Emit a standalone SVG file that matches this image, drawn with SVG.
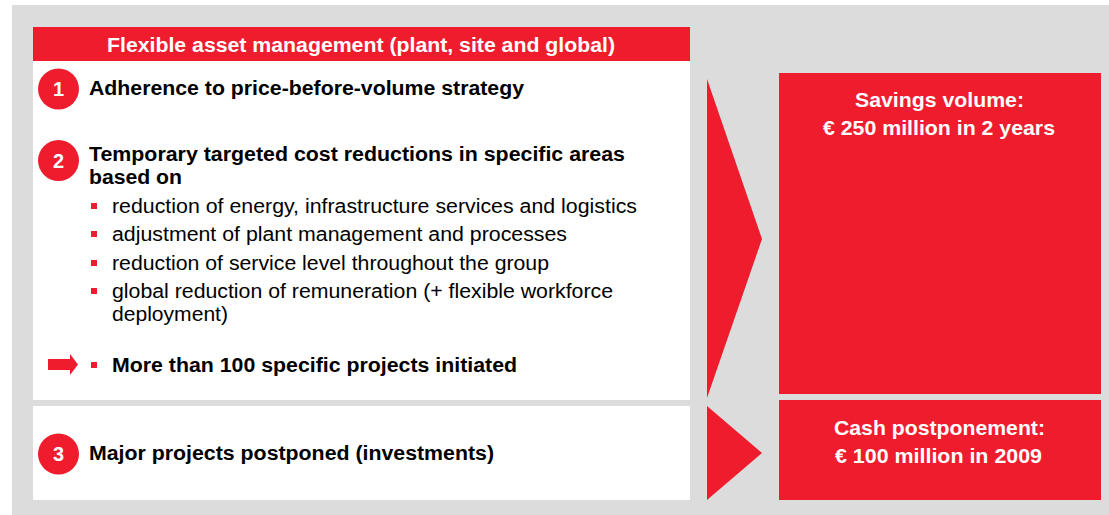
<svg xmlns="http://www.w3.org/2000/svg" width="1109" height="515" viewBox="0 0 1109 515">
  <style>
    .red { fill: #EF1C2D; }
    .panel { fill: #FFFFFF; }
    .t { font-family: "Liberation Sans", Arial, sans-serif; }
    .hd { font-size: 20px; font-weight: bold; fill: #FFFFFF; }
    .num { font-size: 20px; font-weight: bold; fill: #FFFFFF; text-anchor: middle; }
    .b { font-size: 20px; font-weight: bold; fill: #000000; }
    .n { font-size: 20px; fill: #000000; }
    .res { font-size: 20.5px; font-weight: bold; fill: #FFFFFF; }
  </style>
  <defs>
    <rect id="sq" width="6" height="6" class="red"/>
  </defs>

  <!-- backdrop -->
  <rect x="0" y="0" width="1109" height="515" fill="#FFFFFF"/>
  <rect x="12" y="5" width="1097" height="510" fill="#DCDCDC"/>

  <!-- measures panel -->
  <g id="measures">
    <rect x="33" y="27" width="657" height="34" class="red"/>
    <text x="107" y="52" class="t hd" textLength="508" lengthAdjust="spacingAndGlyphs">Flexible asset management (plant, site and global)</text>
    <rect x="33" y="61" width="657" height="339" class="panel"/>

    <g id="item1">
      <circle cx="58.5" cy="89" r="20.5" class="red"/>
      <text x="58.5" y="96" class="t num">1</text>
      <text x="89" y="95" class="t b" textLength="435" lengthAdjust="spacingAndGlyphs">Adherence to price-before-volume strategy</text>
    </g>

    <g id="item2">
      <circle cx="58.5" cy="160.5" r="20.5" class="red"/>
      <text x="58.5" y="167.5" class="t num">2</text>
      <text x="89" y="161" class="t b" textLength="536" lengthAdjust="spacingAndGlyphs">Temporary targeted cost reductions in specific areas</text>
      <text x="89" y="184" class="t b" textLength="93" lengthAdjust="spacingAndGlyphs">based on</text>
      <use href="#sq" x="91" y="203"/>
      <text x="112" y="213" class="t n" textLength="525" lengthAdjust="spacingAndGlyphs">reduction of energy, infrastructure services and logistics</text>
      <use href="#sq" x="91" y="231"/>
      <text x="112" y="241" class="t n" textLength="455" lengthAdjust="spacingAndGlyphs">adjustment of plant management and processes</text>
      <use href="#sq" x="91" y="260"/>
      <text x="112" y="270" class="t n" textLength="437" lengthAdjust="spacingAndGlyphs">reduction of service level throughout the group</text>
      <use href="#sq" x="91" y="288"/>
      <text x="112" y="298" class="t n" textLength="501" lengthAdjust="spacingAndGlyphs">global reduction of remuneration (+ flexible workforce</text>
      <text x="112" y="321" class="t n" textLength="116" lengthAdjust="spacingAndGlyphs">deployment)</text>
      <polygon points="48,359 70,359 70,354 78,364.5 70,375 70,370 48,370" class="red"/>
      <use href="#sq" x="91" y="362"/>
      <text x="112" y="372" class="t b" textLength="405" lengthAdjust="spacingAndGlyphs">More than 100 specific projects initiated</text>
    </g>
  </g>

  <g id="item3">
    <rect x="33" y="406" width="657" height="94" class="panel"/>
    <circle cx="58.5" cy="454" r="20.5" class="red"/>
    <text x="58.5" y="461" class="t num">3</text>
    <text x="89" y="460" class="t b" textLength="405" lengthAdjust="spacingAndGlyphs">Major projects postponed (investments)</text>
  </g>

  <!-- chevrons leading to the results -->
  <g id="connectors">
    <polygon points="707,79 762,239 707,398" class="red"/>
    <polygon points="707,406 762,453 707,500" class="red"/>
  </g>

  <g id="savings">
    <rect x="779" y="73" width="322" height="321" class="red"/>
    <text x="855" y="107" class="t res" textLength="169" lengthAdjust="spacingAndGlyphs">Savings volume:</text>
    <text x="823" y="135" class="t res" textLength="232" lengthAdjust="spacingAndGlyphs">€ 250 million in 2 years</text>
  </g>

  <g id="cash">
    <rect x="779" y="400" width="322" height="100" class="red"/>
    <text x="834" y="435" class="t res" textLength="211" lengthAdjust="spacingAndGlyphs">Cash postponement:</text>
    <text x="835" y="463" class="t res" textLength="207" lengthAdjust="spacingAndGlyphs">€ 100 million in 2009</text>
  </g>
</svg>
